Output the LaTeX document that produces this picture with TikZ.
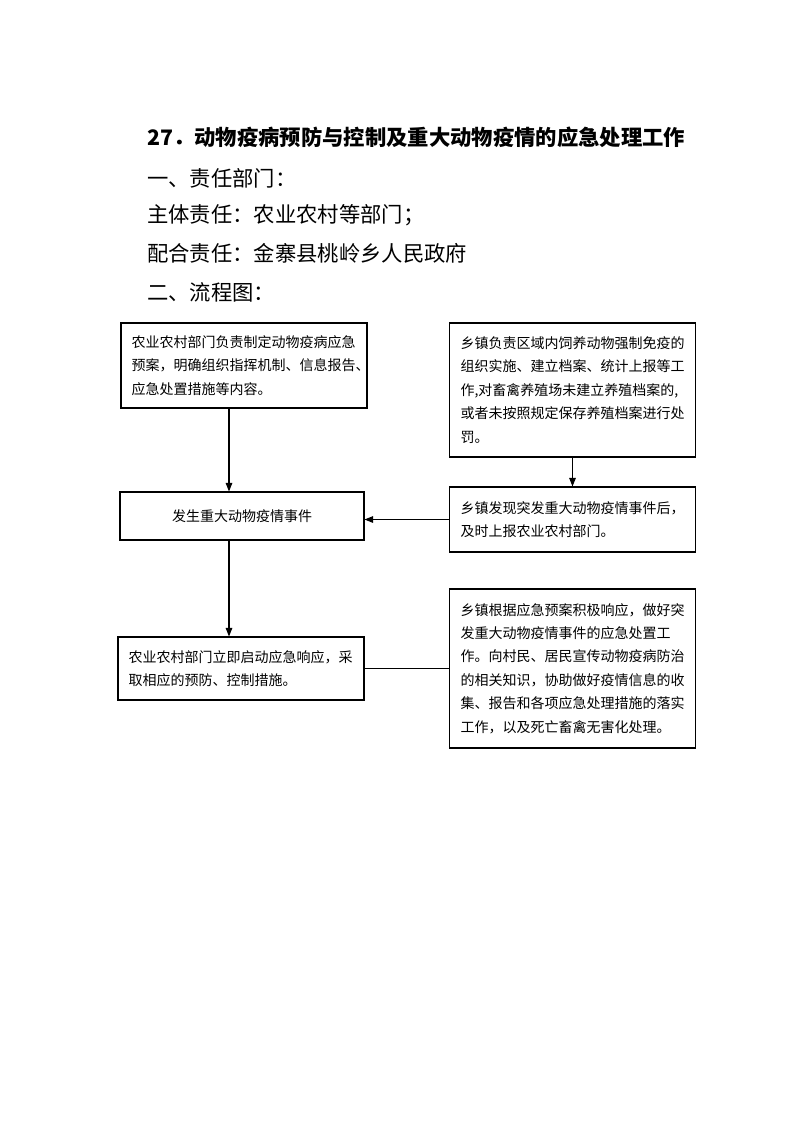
\documentclass[tikz,border=0pt]{standalone}
\usepackage{fontspec}
\newfontfamily\cjk{Noto Sans CJK SC}
\usetikzlibrary{arrows.meta,positioning}

\begin{document}
\begin{tikzpicture}[
      x=0.75pt, y=-0.75pt,
      head/.style={anchor=west, inner sep=0pt, font=\cjk\fontsize{16pt}{18pt}\selectfont},
      box/.style={draw, line width=0.8pt, inner xsep=8pt, inner ysep=0pt, align=left,
                  font=\cjk\fontsize{10.5pt}{17.6pt}\selectfont},
      arrow/.style={-{Triangle[length=6.5pt, width=5pt]}, line width=0.8pt},
      link/.style={line width=0.8pt},
    ]
    \useasboundingbox (0,0) rectangle (794,1122);

    % heading lines
    \node[head, font=\cjk\bfseries\fontsize{16pt}{18pt}\selectfont] (title) at (147,137)
      {27．动物疫病预防与控制及重大动物疫情的应急处理工作};
    \node[head] (duty) at (147,178) {一、责任部门：};
    \node[head] (mainduty) at (147,215) {主体责任：农业农村等部门；};
    \node[head] (coduty) at (147,253) {配合责任：金寨县桃岭乡人民政府};
    \node[head] (flow) at (147,292) {二、流程图：};

    % left column
    \node[box, text width=168.5pt, minimum height=63.75pt] (plan) at (244,365.5)
      {农业农村部门负责制定动物疫病应急\\预案，明确组织指挥机制、信息报告、\\应急处置措施等内容。};
    \node[box, text width=167pt, minimum height=36pt, align=center] (event) at (242,516)
      {发生重大动物疫情事件};
    \node[box, text width=168.5pt, minimum height=47.25pt] (respond) at (241,668.5)
      {农业农村部门立即启动应急响应，采\\取相应的预防、控制措施。};

    % right column
    \node[box, text width=168pt, inner xsep=8.5pt, minimum height=100.5pt] (immune) at (572.5,390)
      {乡镇负责区域内饲养动物强制免疫的\\组织实施、建立档案、统计上报等工\\作,对畜禽养殖场未建立养殖档案的,\\或者未按照规定保存养殖档案进行处\\罚。};
    \node[box, text width=168pt, inner xsep=8.5pt, minimum height=48.75pt] (report) at (572.5,519.5)
      {乡镇发现突发重大动物疫情事件后，\\及时上报农业农村部门。};
    \node[box, text width=168pt, inner xsep=8.5pt, minimum height=119.25pt] (town) at (572.5,668.5)
      {乡镇根据应急预案积极响应，做好突\\发重大动物疫情事件的应急处置工\\作。向村民、居民宣传动物疫病防治\\的相关知识，协助做好疫情信息的收\\集、报告和各项应急处理措施的落实\\工作，以及死亡畜禽无害化处理。};

    % connectors
    \draw[arrow] ([xshift=-11.25pt]plan.south) -- ([xshift=-11.25pt]plan.south |- event.north);
    \draw[arrow] ([xshift=-9.75pt]event.south) -- ([xshift=-9.75pt]event.south |- respond.north);
    \draw[arrow] (immune) -- (report);
    \draw[arrow] (report.west) -- (report.west -| event.east);
    \draw[link] (respond.east) -- (town.west);
  \end{tikzpicture}
\end{document}
